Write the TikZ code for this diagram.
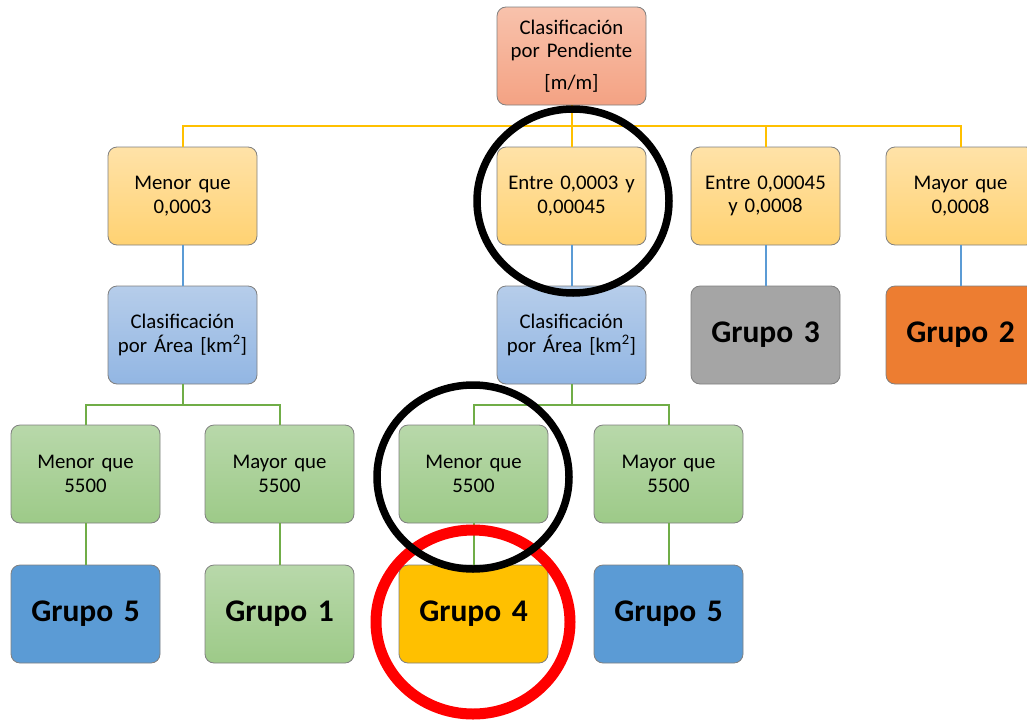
\documentclass[tikz,border=0pt]{standalone}
\usepackage{fontspec}
\setmainfont{Carlito}

\definecolor{rootT}{HTML}{F8C2AC}
\definecolor{rootB}{HTML}{F4A283}
\definecolor{yelT}{HTML}{FFE2A8}
\definecolor{yelB}{HTML}{FFD272}
\definecolor{bluT}{HTML}{B6CDEA}
\definecolor{bluB}{HTML}{92B6E3}
\definecolor{grnT}{HTML}{B8D8AA}
\definecolor{grnB}{HTML}{9DCA88}
\definecolor{edge}{HTML}{7F7F7F}
\definecolor{gold}{HTML}{FFC000}
\definecolor{lineblue}{HTML}{5B9BD5}
\definecolor{linegreen}{HTML}{70AD47}
\definecolor{g3}{HTML}{A5A5A5}
\definecolor{g2}{HTML}{ED7D31}
\definecolor{g5}{HTML}{5B9BD5}
\definecolor{ringred}{HTML}{FF0000}

\tikzset{
  box/.style={draw=edge, line width=0.8pt, rounded corners=9pt,
    minimum width=149pt, minimum height=98pt, inner sep=2pt,
    align=center, text width=145pt,
    font=\fontsize{20.8}{23.5}\selectfont},
  rootbox/.style={box, top color=rootT, bottom color=rootB},
  rangebox/.style={box, top color=yelT, bottom color=yelB},
  areabox/.style={box, top color=bluT, bottom color=bluB},
  sizebox/.style={box, top color=grnT, bottom color=grnB},
  groupbox/.style={box, font=\fontsize{31.5}{36}\selectfont\bfseries},
  goldline/.style={draw=gold, line width=2pt},
  blueline/.style={draw=lineblue, line width=2pt},
  greenline/.style={draw=linegreen, line width=2pt},
  ring/.style={draw=black, line width=7.5pt},
  redring/.style={draw=ringred, line width=11pt}
}

\begin{document}
\begin{tikzpicture}[x=1pt, y=-1pt]
  \useasboundingbox (0,0) rectangle (1027,720);
  \clip (0,0) rectangle (1027,720);

  % root
  \node[rootbox] (root) at (571.5,56) {Clasificación\\por Pendiente\\[8pt]{[m/m]}};

  % slope ranges
  \node[rangebox] (a) at (182.5,196) {Menor que\\0,0003};
  \node[rangebox] (b) at (571.5,196) {Entre 0,0003 y\\0,00045};
  \node[rangebox] (c) at (765.5,196) {Entre 0,00045\\y 0,0008};
  \node[rangebox] (d) at (960.5,196) {Mayor que\\0,0008};

  % second level
  \node[areabox] (aa) at (182.5,335) {Clasificación\\por Área [km\textsuperscript{2}]};
  \node[areabox] (ba) at (571.5,335) {Clasificación\\por Área [km\textsuperscript{2}]};
  \node[groupbox, fill=g3] (grp3) at (765.5,335) {Grupo 3};
  \node[groupbox, fill=g2] (grp2) at (960.5,335) {Grupo 2};

  % area ranges
  \node[sizebox] (a1) at (85.5,474) {Menor que\\5500};
  \node[sizebox] (a2) at (279.5,474) {Mayor que\\5500};
  \node[sizebox] (b1) at (473.5,474) {Menor que\\5500};
  \node[sizebox] (b2) at (668.5,474) {Mayor que\\5500};

  % resulting groups
  \node[groupbox, fill=g5] (grp5a) at (85.5,614) {Grupo 5};
  \node[groupbox, top color=grnT, bottom color=grnB] (grp1) at (279.5,614) {Grupo 1};
  \node[groupbox, fill=gold] (grp4) at (473.5,614) {Grupo 4};
  \node[groupbox, fill=g5] (grp5b) at (668.5,614) {Grupo 5};

  % connectors: root to slope ranges
  \coordinate (bus1) at (571.5,126);
  \draw[goldline] (root.south) -- (bus1);
  \draw[goldline] (a.north) |- (bus1) -| (d.north);
  \draw[goldline] (bus1) -- (b.north);
  \draw[goldline] (bus1 -| c.north) -- (c.north);

  % slope ranges to second level
  \draw[blueline] (a.south) -- (aa.north);
  \draw[blueline] (b.south) -- (ba.north);
  \draw[blueline] (c.south) -- (grp3.north);
  \draw[blueline] (d.south) -- (grp2.north);

  % area classifications to area ranges
  \coordinate (bus2) at (182.5,405);
  \coordinate (bus3) at (571.5,405);
  \draw[greenline] (aa.south) -- (bus2);
  \draw[greenline] (a1.north) |- (bus2) -| (a2.north);
  \draw[greenline] (ba.south) -- (bus3);
  \draw[greenline] (b1.north) |- (bus3) -| (b2.north);

  % area ranges to groups
  \draw[greenline] (a1.south) -- (grp5a.north);
  \draw[greenline] (a2.south) -- (grp1.north);
  \draw[greenline] (b1.south) -- (grp4.north);
  \draw[greenline] (b2.south) -- (grp5b.north);

  % highlight rings
  \draw[redring] (473,622) ellipse [x radius=97pt, y radius=92pt];
  \draw[ring] (573,201) ellipse [x radius=96pt, y radius=92pt];
  \draw[ring] (473,477) ellipse [x radius=96pt, y radius=92pt];
\end{tikzpicture}
\end{document}
